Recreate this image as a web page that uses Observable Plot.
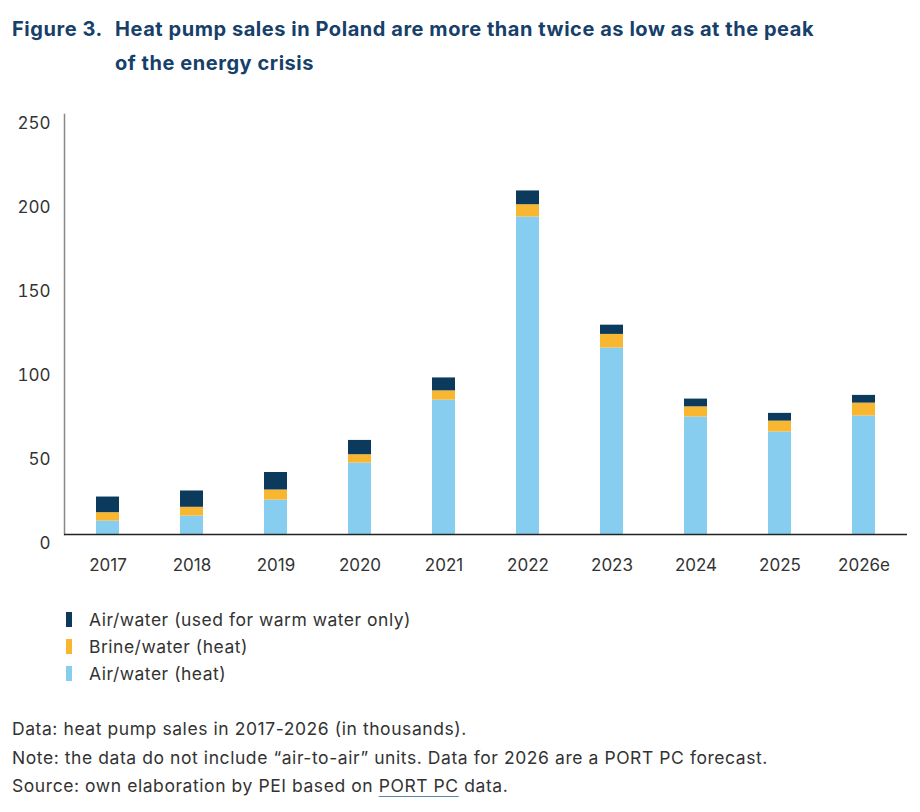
<!DOCTYPE html>
<html><head><meta charset="utf-8">
<script src="https://cdn.jsdelivr.net/npm/d3@7"></script>
<script src="https://cdn.jsdelivr.net/npm/@observablehq/plot@0.6"></script>
<style>
body{margin:0;background:#fff;font-family:Inter,"Noto Sans",sans-serif;width:920px;height:812px;position:relative;overflow:hidden;color:#333}
#title{position:absolute;left:12px;top:12px;color:#16406a;font-weight:700;font-size:20px;letter-spacing:0.55px;line-height:34px;display:flex}
#title .num{width:103px;flex:none}
#chart{position:absolute;left:0;top:100px}
#legend{position:absolute;left:66px;top:606px;font-size:17.5px;letter-spacing:0.5px;line-height:27px}
#legend .item{display:flex;align-items:center}
#legend .sw{width:6px;height:15px;margin-right:17px}
#notes{position:absolute;left:12px;top:715px;font-size:17.5px;letter-spacing:0.57px;line-height:28.5px;color:#333}
#notes u{text-decoration-color:#5b86a8;text-underline-offset:4px}
</style></head><body>
<div id="title"><div class="num">Figure 3.</div><div>Heat pump sales in Poland are more than twice as low as at the peak<br>of the energy crisis</div></div>
<div id="chart"></div>
<div id="legend"></div>
<div id="notes">Data: heat pump sales in 2017-2026 (in thousands).<br>Note: the data do not include “air-to-air” units. Data for 2026 are a PORT PC forecast.<br>Source: own elaboration by PEI based on <u>PORT PC</u> data.</div>
<script>
const years = ["2017","2018","2019","2020","2021","2022","2023","2024","2025","2026e"];
const airWaterHeat = [8, 11, 20.5, 42.5, 80, 189, 111, 70, 61, 70.5];
const brineWaterHeat = [5, 5.2, 6, 5, 5.5, 7.3, 8.1, 6, 6.5, 7.7];
const airWaterDHW = [9.3, 9.7, 10.4, 8.5, 7.7, 8.2, 5.5, 4.6, 4.6, 4.6];
const seriesNames = ["Air/water (heat)", "Brine/water (heat)", "Air/water (used for warm water only)"];
const seriesColors = ["#87cdf0", "#f9b731", "#0b3a5c"];
const yTicks = [0, 50, 100, 150, 200, 250];

const seriesValues = [airWaterHeat, brineWaterHeat, airWaterDHW];
const rows = [];
years.forEach((year, i) => {
  seriesNames.forEach((s, j) => rows.push({year, series: s, value: seriesValues[j][i]}));
});

const chart = Plot.plot({
  width: 920, height: 480,
  marginTop: 14, marginBottom: 46, marginLeft: 64, marginRight: 13,
  style: {fontFamily: "Inter, sans-serif", fontSize: "17px", color: "#333", background: "transparent"},
  x: {domain: years, paddingInner: 0.73, paddingOuter: 0.365, axis: null},
  y: {domain: [0, 250], axis: null},
  color: {domain: seriesNames, range: seriesColors},
  marks: [
    Plot.barY(rows, {x: "year", y: "value", fill: "series", order: seriesNames}),
    Plot.axisY({ticks: yTicks, tickSize: 0, tickPadding: 14, dy: 9, fontSize: 17, color: "#333", label: null}),
    Plot.axisX({tickSize: 0, tickPadding: 24, fontSize: 17, color: "#333", label: null}),
    Plot.frame({anchor: "left", stroke: "#888", strokeWidth: 1.5}),
    Plot.ruleY([0], {stroke: "#222", strokeWidth: 1.5})
  ]
});
document.getElementById("chart").appendChild(chart);

const legend = document.getElementById("legend");
[2, 1, 0].forEach(j => {
  const item = document.createElement("div");
  item.className = "item";
  const sw = document.createElement("span");
  sw.className = "sw";
  sw.style.background = seriesColors[j];
  item.appendChild(sw);
  item.appendChild(document.createTextNode(seriesNames[j]));
  legend.appendChild(item);
});
</script>
</body></html>
